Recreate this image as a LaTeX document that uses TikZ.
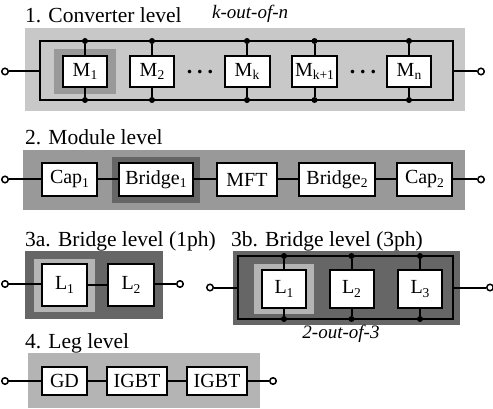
\documentclass[tikz,border=0pt]{standalone}
\usepackage{fontspec}
\setmainfont{Liberation Serif}
\newcommand\sbs[1]{\raisebox{-3.5pt}{\fontsize{13.5}{13.5}\selectfont #1}}
\definecolor{gA}{HTML}{C8C8C8}
\definecolor{gB}{HTML}{999999}
\definecolor{gC}{HTML}{666666}
\definecolor{gD}{HTML}{B4B4B4}
\tikzset{
  blk/.style={draw, fill=white, line width=2pt, inner sep=0pt, font=\fontsize{20}{20}\selectfont},
  term/.style={circle, draw, fill=white, inner sep=0pt, minimum size=6.5pt, line width=1.5pt},
  jdot/.style={circle, fill=black, inner sep=0pt, minimum size=6pt},
  wire/.style={line width=2pt},
  ttl/.style={anchor=base west, inner sep=0pt, font=\fontsize{21.5}{21.5}\selectfont},
  note/.style={inner sep=0pt, font=\fontsize{19}{19}\selectfont\itshape},
  ell/.style={anchor=base, inner sep=0pt, font=\fontsize{22}{22}\selectfont\bfseries},
}
\begin{document}
\begin{tikzpicture}[x=1pt,y=-1pt]
\useasboundingbox (0,0) rectangle (493,409);
% ---------------- Panel 1
\node[ttl] (t1) at (25,23) {1. Converter level};
\node[note, anchor=base west] (ko) at (212,19) {k-out-of-n};
\fill[gA] (25,28) rectangle (465,111);
\fill[gB] (54,49) rectangle (116,94);
\coordinate (a1) at (40,41);
\coordinate (a2) at (453,100);
\coordinate (a1m) at (40,71.5);
\coordinate (a2m) at (453,71.5);
\draw[wire] (a1) rectangle (a2);
\node[term] (p1l) at (5,71.5) {};
\node[term] (p1r) at (481,71.5) {};
\draw[wire] (p1l) -- (a1m);
\draw[wire] (p1r) -- (a2m);
\foreach \n/\x/\w/\lab in {m1/85/44/{M\sbs{1}}, m2/152/44/{M\sbs{2}}, mk/247/45/{M\sbs{k}}, mkk/314.5/45/{M\sbs{k+1}}, mn/409/44/{M\sbs{n}}}{
  \node[blk, minimum width=\w pt, minimum height=31pt] (\n) at (\x,71.5) {\lab};
  \node[jdot] (\n t) at (\n |- a1) {};
  \node[jdot] (\n b) at (\n |- a2) {};
  \draw[wire] (\n t) -- (\n);
  \draw[wire] (\n b) -- (\n);
}
\node[ell] (d1) at (200,74) {.\hspace{5pt}.\hspace{5pt}.};
\node[ell] (d2) at (363,74) {.\hspace{5pt}.\hspace{5pt}.};
% ---------------- Panel 2
\node[ttl] (t2) at (25,145) {2. Module level};
\fill[gB] (23,150) rectangle (465,210);
\fill[gC] (112,157) rectangle (200,203);
\node[term] (p2l) at (5,179.5) {};
\node[term] (p2r) at (481,179.5) {};
\node[blk, minimum width=55pt, minimum height=33pt] (cap1) at (69.5,179.5) {Cap\sbs{1}};
\node[blk, minimum width=74pt, minimum height=33pt] (br1) at (156,179.5) {Bridge\sbs{1}};
\node[blk, minimum width=60pt, minimum height=33pt] (mft) at (247,179.5) {MFT};
\node[blk, minimum width=76pt, minimum height=33pt] (br2) at (337,179.5) {Bridge\sbs{2}};
\node[blk, minimum width=55pt, minimum height=33pt] (cap2) at (424.5,179.5) {Cap\sbs{2}};
\draw[wire] (p2l) -- (cap1) -- (br1) -- (mft) -- (br2) -- (cap2) -- (p2r);
% ---------------- Panel 3a
\node[ttl] (t3a) at (25,246) {3a. Bridge level (1ph)};
\fill[gC] (25,251) rectangle (163,319);
\fill[gD] (34,259) rectangle (95,312);
\node[term] (p3l) at (5,284) {};
\node[term] (p3r) at (180,284) {};
\node[blk, minimum width=45pt, minimum height=42pt] (la1) at (64.5,285) {L\sbs{1}};
\node[blk, minimum width=46pt, minimum height=42pt] (la2) at (131,285) {L\sbs{2}};
\draw[wire] (p3l) -- (p3l -| la1.west);
\draw[wire] (la1) -- (la2);
\draw[wire] (p3r) -- (p3r -| la2.east);
% ---------------- Panel 3b
\node[ttl] (t3b) at (231,246) {3b. Bridge level (3ph)};
\fill[gC] (233,251) rectangle (460,325);
\fill[gD] (254,264) rectangle (314,314);
\coordinate (b1) at (238,256);
\coordinate (b2) at (453,319);
\coordinate (b1m) at (238,287.5);
\coordinate (b2m) at (453,287.5);
\draw[wire] (b1) rectangle (b2);
\node[term] (q3l) at (210,287.5) {};
\node[term] (q3r) at (490,287.5) {};
\draw[wire] (q3l) -- (b1m);
\draw[wire] (q3r) -- (b2m);
\foreach \n/\x/\lab in {lb1/284/{L\sbs{1}}, lb2/351.5/{L\sbs{2}}, lb3/420/{L\sbs{3}}}{
  \node[blk, minimum width=44pt, minimum height=38pt] (\n) at (\x,289) {\lab};
  \node[jdot] (\n t) at (\n |- b1) {};
  \node[jdot] (\n b) at (\n |- b2) {};
  \draw[wire] (\n t) -- (\n);
  \draw[wire] (\n b) -- (\n);
}
\node[note, anchor=base] (tt) at (341,338) {2-out-of-3};
% ---------------- Panel 4
\node[ttl] (t4) at (25,348) {4. Leg level};
\fill[gD] (28,353) rectangle (260,408);
\node[term] (p4l) at (5,381) {};
\node[term] (p4r) at (273,381) {};
\node[blk, minimum width=45pt, minimum height=28pt] (gd) at (64.5,381) {GD};
\node[blk, minimum width=60pt, minimum height=28pt] (ig1) at (137,381) {IGBT};
\node[blk, minimum width=60pt, minimum height=28pt] (ig2) at (217,381) {IGBT};
\draw[wire] (p4l) -- (gd) -- (ig1) -- (ig2) -- (p4r);
\end{tikzpicture}
\end{document}
